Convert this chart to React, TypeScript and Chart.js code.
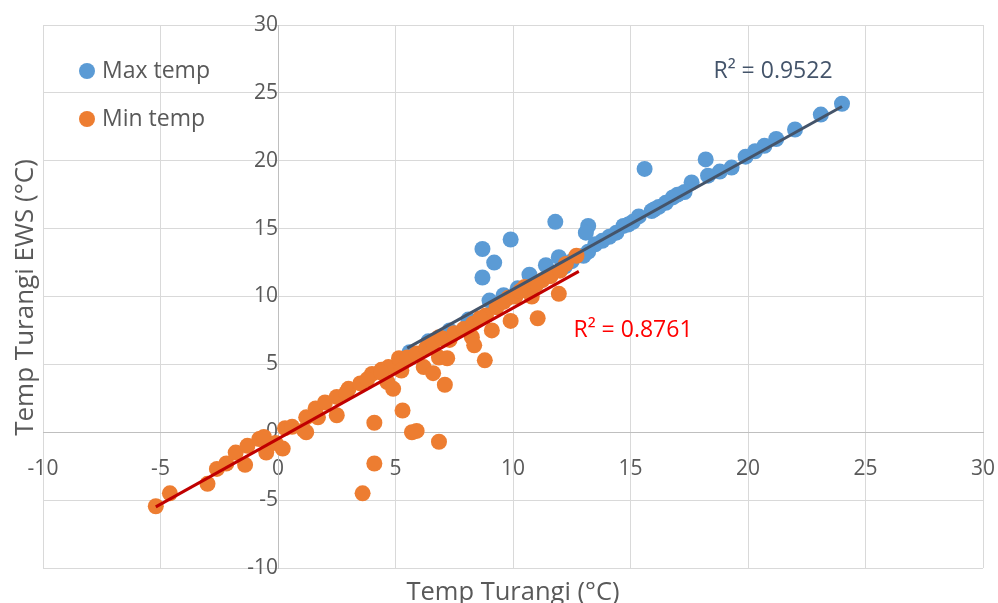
import React, { useEffect, useRef } from 'react';
import { Chart, registerables } from 'chart.js';

Chart.register(...registerables);

// Max temp (blue) observations: Turangi vs Turangi EWS
const maxTempX = [24.0, 23.1, 22.0, 21.2, 20.7, 20.3, 19.9, 19.3, 18.8, 18.3, 18.2, 17.6, 17.3, 16.8, 16.5, 16.2, 15.9, 15.6, 15.35, 15.1, 14.7, 14.4, 14.1, 13.8, 13.5, 13.2, 13.2, 13.1, 11.8, 9.9, 8.7, 9.2, 8.7, 9.0, 9.6, 10.7, 11.4, 11.95, 12.5, 13.0, 10.2, 5.6, 6.4, 7.3, 8.1, 17.0, 16.0, 14.9, 12.2];
const maxTempY = [24.2, 23.4, 22.3, 21.6, 21.1, 20.7, 20.3, 19.5, 19.2, 18.9, 20.1, 18.4, 17.7, 17.3, 16.9, 16.6, 16.3, 19.4, 15.9, 15.5, 15.2, 14.7, 14.4, 14.1, 13.85, 13.3, 15.2, 14.7, 15.5, 14.2, 13.5, 12.5, 11.4, 9.7, 10.1, 11.6, 12.3, 12.9, 12.6, 13.0, 10.6, 5.9, 6.7, 7.5, 8.3, 17.5, 16.4, 15.3, 12.2];

// Min temp (orange) observations
const minTempX = [-5.2, -4.6, -3.0, -2.6, -2.2, -1.8, -1.4, -1.3, -0.8, -0.6, -0.5, -0.1, 0.2, 0.3, 0.6, 1.2, 1.2, 1.6, 2.0, 1.1, 1.7, 2.5, 2.5, 3.0, 3.5, 4.1, 4.1, 3.6, 4.0, 4.4, 4.65, 4.9, 4.7, 5.15, 5.25, 5.3, 5.7, 5.9, 6.85, 6.2, 6.6, 7.1, 6.85, 7.2, 6.85, 7.3, 8.25, 8.35, 8.8, 9.1, 9.9, 11.05, 11.95, 10.8, 11.25, 12.25, 12.7, 8.85, 9.8, 10.5, 5.5, 5.9, 6.3, 6.6, 7.0, 7.5, 7.9, 8.3, 8.6, 9.3, 9.6, 10.1, 10.3, 11.0, 11.6, 12.0, 2.9, 3.8, 4.4];
const minTempY = [-5.45, -4.5, -3.8, -2.7, -2.3, -1.5, -2.4, -1.0, -0.5, -0.35, -1.5, -0.8, -1.2, 0.3, 0.4, 0.0, 1.1, 1.75, 2.2, 0.15, 1.1, 1.25, 2.6, 3.2, 3.6, 0.7, -2.3, -4.5, 4.3, 4.6, 3.7, 3.2, 4.8, 5.45, 4.55, 1.6, 0.0, 0.1, -0.7, 4.8, 4.35, 3.5, 5.5, 5.45, 7.0, 6.8, 7.0, 6.4, 5.3, 7.5, 8.2, 8.4, 10.2, 10.0, 11.2, 12.4, 13.0, 8.6, 9.9, 10.7, 5.5, 5.8, 6.2, 6.6, 6.9, 7.3, 7.6, 8.0, 8.4, 9.2, 9.6, 10.0, 10.4, 10.9, 11.5, 11.9, 2.9, 3.9, 4.4];

// Linear trendline end points (as drawn)
const maxTrendX = [5.5, 24.0];
const maxTrendY = [6.2, 24.0];
const minTrendX = [-5.2, 12.8];
const minTrendY = [-5.5, 11.85];

const seriesNames = ['Max temp', 'Min temp'];
const r2Labels = ['R² = 0.9522', 'R² = 0.8761'];
const xTitle = 'Temp Turangi (°C)';
const yTitle = 'Temp Turangi EWS (°C)';
const axisMin = -10;
const axisMax = 30;
const axisStep = 5;

const BLUE = '#5b9bd5';
const ORANGE = '#ed7d31';
const FONT = '"Open Sans", Lato, sans-serif';
const TEXT = '#595959';

const pts = (xs: number[], ys: number[]) => xs.map((x, i) => ({ x, y: ys[i] }));

const zeroPad = (s: any) => {
  s.paddingLeft = 0;
  s.paddingRight = 0;
  s.paddingTop = 0;
  s.paddingBottom = 0;
};

const overlay = {
  id: 'overlay',
  afterDraw(chart: any) {
    const ctx = chart.ctx as CanvasRenderingContext2D;
    const ca = chart.chartArea;
    ctx.save();
    // legend
    const legend = [
      { c: BLUE, t: seriesNames[0], y: 71 },
      { c: ORANGE, t: seriesNames[1], y: 119 },
    ];
    ctx.font = `23px ${FONT}`;
    ctx.textBaseline = 'middle';
    ctx.textAlign = 'left';
    legend.forEach((l) => {
      ctx.fillStyle = l.c;
      ctx.beginPath();
      ctx.arc(87, l.y, 8, 0, Math.PI * 2);
      ctx.fill();
      ctx.fillStyle = TEXT;
      ctx.fillText(l.t, 102, l.y);
    });
    // R² labels
    ctx.textAlign = 'center';
    ctx.fillStyle = '#44546a';
    ctx.fillText(r2Labels[0], 773, 71);
    ctx.fillStyle = '#ff0000';
    ctx.fillText(r2Labels[1], 633, 330);
    // axis titles
    ctx.fillStyle = TEXT;
    ctx.font = `25.5px ${FONT}`;
    ctx.fillText(xTitle, (ca.left + ca.right) / 2, 593);
    ctx.font = `26px ${FONT}`;
    ctx.translate(26, (ca.top + ca.bottom) / 2 + 1);
    ctx.rotate(-Math.PI / 2);
    ctx.fillText(yTitle, 0, 0);
    ctx.restore();
  },
};

export default function App() {
  const ref = useRef<HTMLCanvasElement | null>(null);
  useEffect(() => {
    if (!ref.current) return;
    const chart = new Chart(ref.current, {
      type: 'scatter',
      data: {
        datasets: [
          {
            label: seriesNames[0],
            data: pts(maxTempX, maxTempY),
            backgroundColor: BLUE,
            borderWidth: 0,
            pointRadius: 8,
            order: 4,
          },
          {
            label: seriesNames[1],
            data: pts(minTempX, minTempY),
            backgroundColor: ORANGE,
            borderWidth: 0,
            pointRadius: 8,
            order: 3,
          },
          {
            type: 'line',
            label: 'Max trend',
            data: pts(maxTrendX, maxTrendY),
            borderColor: '#44546a',
            borderWidth: 3,
            pointRadius: 0,
            showLine: true,
            fill: false,
            order: 2,
          } as any,
          {
            type: 'line',
            label: 'Min trend',
            data: pts(minTrendX, minTrendY),
            borderColor: '#c00000',
            borderWidth: 3,
            pointRadius: 0,
            showLine: true,
            fill: false,
            order: 1,
          } as any,
        ],
      },
      options: {
        responsive: false,
        animation: false,
        devicePixelRatio: 1,
        layout: { padding: { left: 43, top: 25, right: 15, bottom: 35 } },
        plugins: { legend: { display: false }, tooltip: { enabled: false } },
        scales: {
          x: {
            type: 'linear',
            position: { y: 0 } as any,
            min: axisMin,
            max: axisMax,
            afterFit: zeroPad,
            ticks: { stepSize: axisStep, color: TEXT, font: { family: FONT, size: 21 }, padding: 24 },
            grid: { color: '#d9d9d9', lineWidth: 1, drawTicks: false },
            border: { color: '#bfbfbf', width: 1 },
          },
          y: {
            type: 'linear',
            position: { x: 0 } as any,
            min: axisMin,
            max: axisMax,
            afterFit: zeroPad,
            ticks: { stepSize: axisStep, color: TEXT, font: { family: FONT, size: 21 }, padding: 23 },
            grid: { color: '#d9d9d9', lineWidth: 1, drawTicks: false },
            border: { color: '#bfbfbf', width: 1 },
          },
        },
      },
      plugins: [overlay],
    });
    return () => chart.destroy();
  }, []);
  return (
    <div style={{ position: 'absolute', left: 0, top: 0, width: 998, height: 603, background: '#fff' }}>
      <canvas ref={ref} width={998} height={603} style={{ display: 'block' }} />
    </div>
  );
}
